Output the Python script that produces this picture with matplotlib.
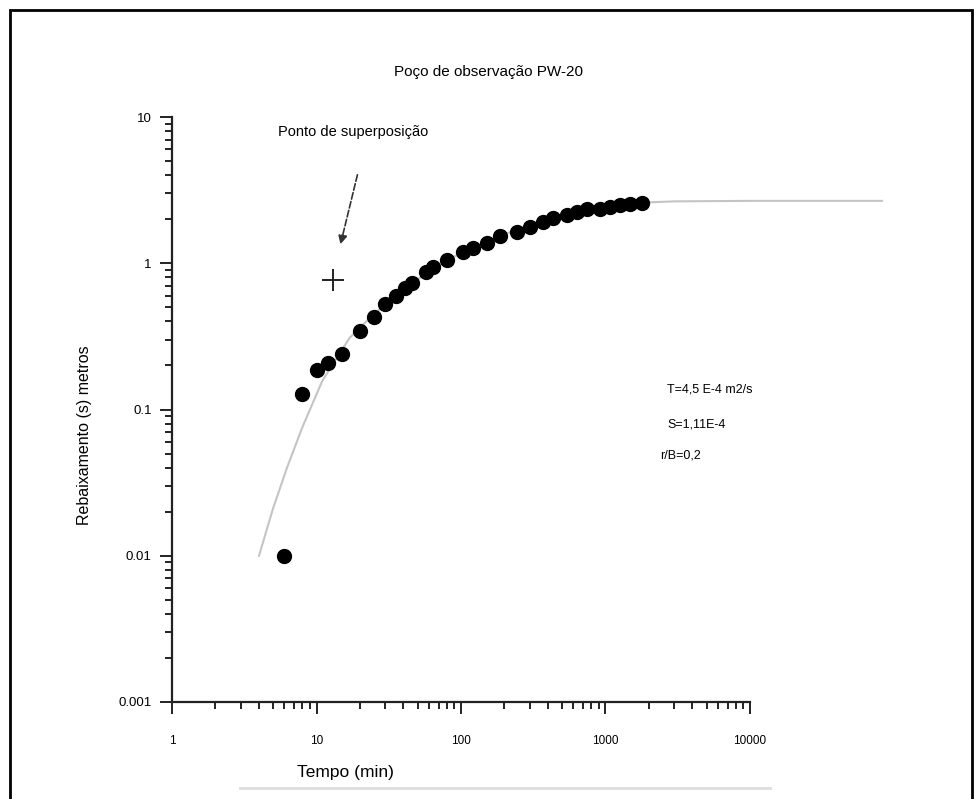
import matplotlib
matplotlib.use('Agg')
import matplotlib.pyplot as plt
from matplotlib.patches import Rectangle
from matplotlib.lines import Line2D
from matplotlib.ticker import FixedLocator, LogLocator, NullFormatter

plt.rcParams['font.family'] = ['Liberation Sans', 'DejaVu Sans']

# observed drawdown data
tempo_obs = [6, 8, 10, 12, 15, 20, 25, 30, 35.5, 41, 46, 57, 64, 80, 103, 121,
             151, 186, 243, 300, 370, 433, 542, 634, 744, 916, 1070, 1260, 1475, 1790]
rebaix_obs = [0.010, 0.128, 0.186, 0.208, 0.24, 0.344, 0.43, 0.525, 0.597, 0.677,
              0.733, 0.87, 0.94, 1.05, 1.19, 1.27, 1.37, 1.54, 1.64, 1.77, 1.91,
              2.04, 2.14, 2.24, 2.35, 2.35, 2.43, 2.50, 2.55, 2.60]

# type curve
curva_t = [4, 5, 6.25, 8, 11, 17, 25, 40, 60, 100, 200, 400, 800, 1500, 3000,
           10000, 30000, 82000]
curva_s = [0.010, 0.021, 0.040, 0.076, 0.158, 0.31, 0.45, 0.66, 0.88, 1.18, 1.58,
           2.02, 2.38, 2.58, 2.65, 2.67, 2.67, 2.67]

# match point
sup_t, sup_s = 13, 0.767
seta_de = (19.4, 4.2)
seta_para = (14.5, 1.29)

x_ticks = [1, 10, 100, 1000, 10000]
x_labels = ['1', '10', '100', '1000', '10000']
y_ticks = [0.001, 0.01, 0.1, 1, 10]
y_labels = ['0.001', '0.01', '0.1', '1', '10']

titulo = 'Poço de observação PW-20'
xlab = 'Tempo (min)'
ylab = 'Rebaixamento (s) metros'
nota = 'Ponto de superposição'
params = ['T=4,5 E-4 m2/s', 'S=1,11E-4', 'r/B=0,2']

W, H = 977, 799
fig = plt.figure(figsize=(W / 100, H / 100), dpi=100)
ax = fig.add_axes([172 / W, 1 - 702 / H, (750 - 172) / W, (702 - 117) / H])
ax.set_xscale('log')
ax.set_yscale('log')
ax.set_xlim(1, 10000)
ax.set_ylim(0.001, 10)

ax.plot(curva_t, curva_s, color='#c4c4c4', lw=1.5, clip_on=False, zorder=2)
ax.plot(tempo_obs, rebaix_obs, 'o', color='black', ms=10, zorder=3)
ax.plot([sup_t], [sup_s], '+', color='#222222', ms=16, mew=1.4, zorder=3)
ax.annotate('', xy=seta_para, xytext=seta_de,
            arrowprops=dict(arrowstyle='-|>', color='#333333', lw=1.2,
                            linestyle=(0, (4, 1.5)), mutation_scale=13))

for s in ['top', 'right']:
    ax.spines[s].set_visible(False)
for s in ['left', 'bottom']:
    ax.spines[s].set_linewidth(1.6)
    ax.spines[s].set_color('#222222')

ax.xaxis.set_major_locator(FixedLocator(x_ticks))
ax.yaxis.set_major_locator(FixedLocator(y_ticks))
ax.xaxis.set_minor_locator(LogLocator(base=10, subs=range(2, 10)))
ax.yaxis.set_minor_locator(LogLocator(base=10, subs=range(2, 10)))
ax.xaxis.set_minor_formatter(NullFormatter())
ax.yaxis.set_minor_formatter(NullFormatter())
ax.set_xticklabels(x_labels, fontsize=8.5)
ax.set_yticklabels(y_labels, fontsize=9.5)
ax.tick_params(which='major', length=8.6, width=1.4, color='#222222', direction='out')
ax.tick_params(which='minor', length=5, width=1.4, color='#222222', direction='out')
ax.tick_params(axis='x', which='major', pad=15)
ax.tick_params(axis='y', which='major', pad=6)

fig.text(488 / W, 1 - 72 / H, titulo, ha='center', va='center', fontsize=11)
fig.text(345 / W, 1 - 773 / H, xlab, ha='center', va='center', fontsize=12.5)
fig.text(84 / W, 1 - 435 / H, ylab, ha='center', va='center', rotation=90, fontsize=11.5)
fig.text(353 / W, 1 - 132 / H, nota, ha='center', va='center', fontsize=10.5)
for (txt, xp, yp) in zip(params, [667, 667, 660], [390, 424, 456]):
    fig.text(xp / W, 1 - yp / H, txt, ha='left', va='center', fontsize=9)

fig.patches.append(Rectangle((10 / W, -0.1), (972 - 10) / W, 1.1 - 10 / H,
                             transform=fig.transFigure, fill=False,
                             edgecolor='black', lw=2))
fig.lines.append(Line2D([240 / W, 770 / W], [1 - 788 / H, 1 - 788 / H],
                        transform=fig.transFigure, color='#dddddd', lw=2))

fig.savefig('out.png', dpi=100)
